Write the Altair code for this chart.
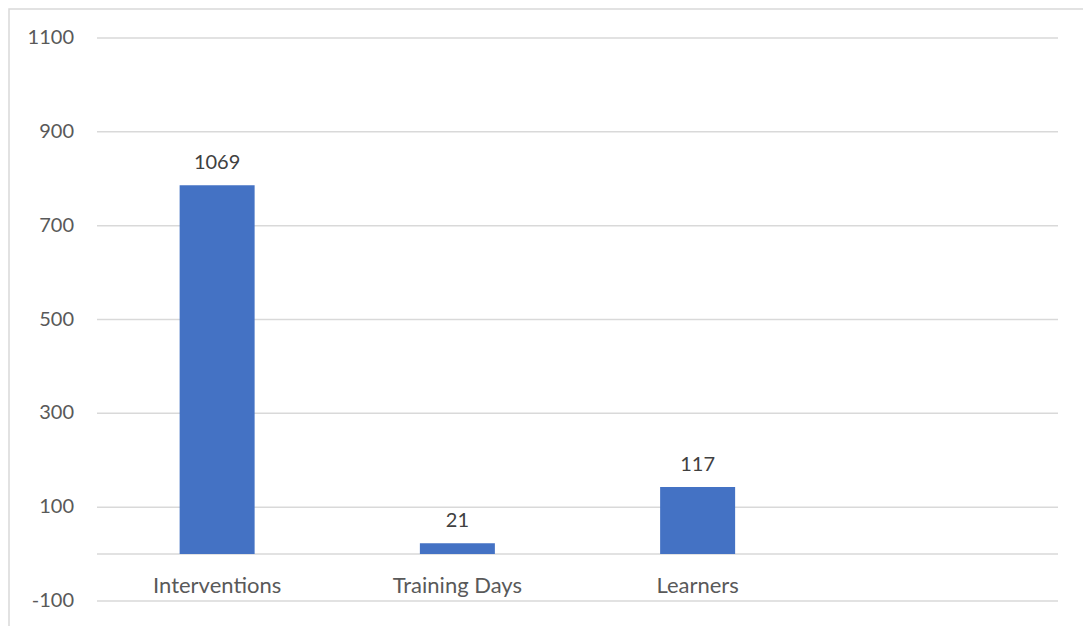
import altair as alt
import pandas as pd

categories = ["Interventions", "Training Days", "Learners", " "]
bar_values = [786, 23, 143, None]
label_texts = ["1069", "21", "117", ""]
y_ticks = [-100, 100, 300, 500, 700, 900, 1100]
y_tick_labels = ["-100", "100", "300", "500", "700", "900", "1100"]

df = pd.DataFrame({"cat": categories, "value": bar_values, "label": label_texts})
bars_df = df.dropna(subset=["value"])

FONT = "Lato"
x_scale = alt.Scale(domain=categories, paddingInner=0, paddingOuter=0)
y_scale = alt.Scale(domain=[-100, 1100], nice=False, zero=False)

frame = alt.Chart(pd.DataFrame({"a": [0]})).mark_rect(
    fill="white", stroke="#d9d9d9", strokeWidth=1.5
).encode(
    x=alt.value(-88), x2=alt.value(989), y=alt.value(-29), y2=alt.value(640)
)

grid = alt.Chart(pd.DataFrame({"v": y_ticks + [0]})).mark_rule(
    color="#d9d9d9", strokeWidth=1.5
).encode(y=alt.Y("v:Q", scale=y_scale, axis=None))

yaxis = alt.Chart(pd.DataFrame({"v": y_ticks, "t": y_tick_labels})).mark_text(
    align="right", baseline="middle", font=FONT, fontSize=20, color="#595959", dx=-23
).encode(
    x=alt.value(0),
    y=alt.Y("v:Q", scale=y_scale, axis=None),
    text="t:N",
)

bars = alt.Chart(bars_df).mark_bar(color="#4472C4", size=75).encode(
    x=alt.X("cat:N", scale=x_scale, axis=None, sort=categories),
    y=alt.Y("value:Q", scale=y_scale, axis=None),
)

vlabels = alt.Chart(bars_df).mark_text(
    baseline="bottom", font=FONT, fontSize=20, color="#404040", dy=-12
).encode(
    x=alt.X("cat:N", scale=x_scale, axis=None, sort=categories),
    y=alt.Y("value:Q", scale=y_scale, axis=None),
    text="label:N",
)

xlabels = alt.Chart(df).mark_text(
    baseline="middle", font=FONT, fontSize=22, color="#595959"
).encode(
    x=alt.X("cat:N", scale=x_scale, axis=None, sort=categories),
    y=alt.datum(-67),
    text="cat:N",
)

chart = alt.layer(frame, grid, yaxis, bars, vlabels, xlabels).properties(
    width=961, height=563,
    autosize=alt.AutoSizeParams(type="none"),
    padding={"left": 89, "top": 30, "right": 25, "bottom": 40},
).configure_view(stroke=None).configure(background="white")

chart.save("out.html", embed_options={"renderer": "svg", "actions": False})
